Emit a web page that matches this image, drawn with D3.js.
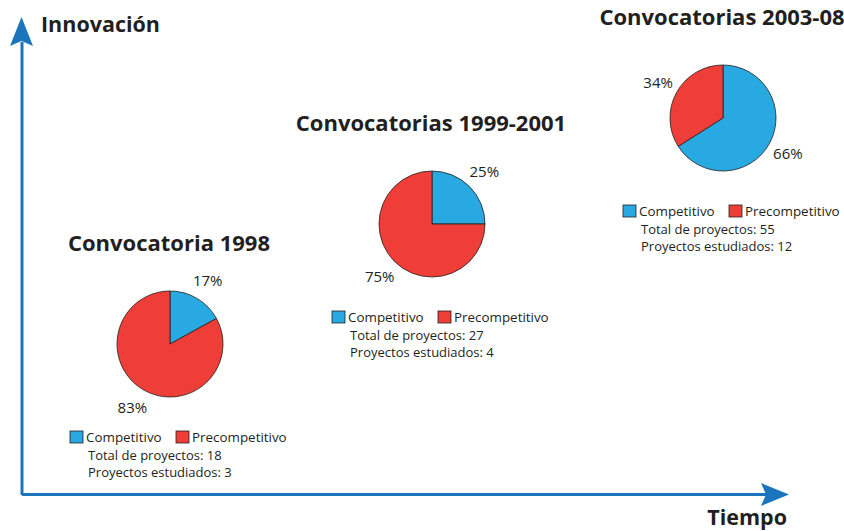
<!DOCTYPE html>
<html>
<head>
<meta charset="utf-8">
<script src="https://cdn.jsdelivr.net/npm/d3@7"></script>
<style>
  body { margin: 0; background: #fff; }
  text { font-family: "Open Sans", "Noto Sans", sans-serif; fill: #231f20; }
</style>
</head>
<body>
<svg id="chart" width="844" height="531"></svg>
<script>
// Data
var periods = ["Convocatoria 1998", "Convocatorias 1999-2001", "Convocatorias 2003-08"];
var categories = ["Competitivo", "Precompetitivo"];
var shares = [[17, 83], [25, 75], [66, 34]];
var totalProjects = [18, 27, 55];
var studiedProjects = [3, 4, 12];

// Layout (pie centres along time / innovation)
var centers = [[170, 344], [432, 224], [723, 118]];
var radius = 53;

var svg = d3.select("#chart");
var blue = "#1b75bc";

var color = d3.scaleOrdinal()
    .domain(categories)
    .range(["#29a9e1", "#ef3e37"]);

// Axes: arrows
svg.append("path")
    .attr("d", "M22,495 L22,42 M22,494.5 L766,494.5")
    .attr("fill", "none")
    .attr("stroke", blue)
    .attr("stroke-width", 3);
svg.append("path")
    .attr("d", "M21.5,17 L33,46 L21.5,41 L10,46 Z")
    .attr("fill", blue);
svg.append("path")
    .attr("d", "M789,494.5 L761,506 L766,494.5 L761,483 Z")
    .attr("fill", blue);

svg.append("text")
    .attr("x", 41).attr("y", 32)
    .style("font-size", "21.5px").style("font-weight", "bold")
    .text("Innovación");
svg.append("text")
    .attr("x", 787).attr("y", 525)
    .attr("text-anchor", "end")
    .style("font-size", "21.5px").style("font-weight", "bold")
    .text("Tiempo");

var pie = d3.pie().sort(null).value(function(d) { return d.value; });
var arc = d3.arc().innerRadius(0).outerRadius(radius);
var labelArc = d3.arc().innerRadius(74).outerRadius(74);

periods.forEach(function(name, i) {
    var g = svg.append("g")
        .attr("transform", "translate(" + centers[i][0] + "," + centers[i][1] + ")");

    var data = categories.map(function(c, j) { return {cat: c, value: shares[i][j]}; });
    var arcs = pie(data);

    g.selectAll("path.slice")
        .data(arcs)
      .enter().append("path")
        .attr("class", "slice")
        .attr("d", arc)
        .attr("fill", function(d) { return color(d.data.cat); })
        .attr("stroke", "#231f20")
        .attr("stroke-width", 0.8);

    g.selectAll("text.pct")
        .data(arcs)
      .enter().append("text")
        .attr("class", "pct")
        .attr("transform", function(d) { return "translate(" + labelArc.centroid(d) + ")"; })
        .attr("text-anchor", "middle")
        .attr("dy", "0.36em")
        .style("font-size", "15px")
        .text(function(d) { return d.data.value + "%"; });

    // Title
    g.append("text")
        .attr("x", -1).attr("y", -93)
        .attr("text-anchor", "middle")
        .style("font-size", "22px").style("font-weight", "bold")
        .text(name);

    // Legend
    var lg = g.append("g").attr("transform", "translate(-100,87)");
    var item = lg.selectAll("g.item")
        .data(categories)
      .enter().append("g")
        .attr("class", "item")
        .attr("transform", function(d, j) { return "translate(" + (j * 106) + ",0)"; });
    item.append("rect")
        .attr("width", 13).attr("height", 12)
        .attr("fill", function(d) { return color(d); })
        .attr("stroke", "#231f20")
        .attr("stroke-width", 0.8);
    item.append("text")
        .attr("x", 16).attr("y", 11)
        .style("font-size", "13.4px")
        .text(function(d) { return d; });

    lg.append("text")
        .attr("x", 18).attr("y", 29)
        .style("font-size", "13px")
        .text("Total de proyectos: " + totalProjects[i]);
    lg.append("text")
        .attr("x", 18).attr("y", 46)
        .style("font-size", "13px")
        .text("Proyectos estudiados: " + studiedProjects[i]);
});
</script>
</body>
</html>
